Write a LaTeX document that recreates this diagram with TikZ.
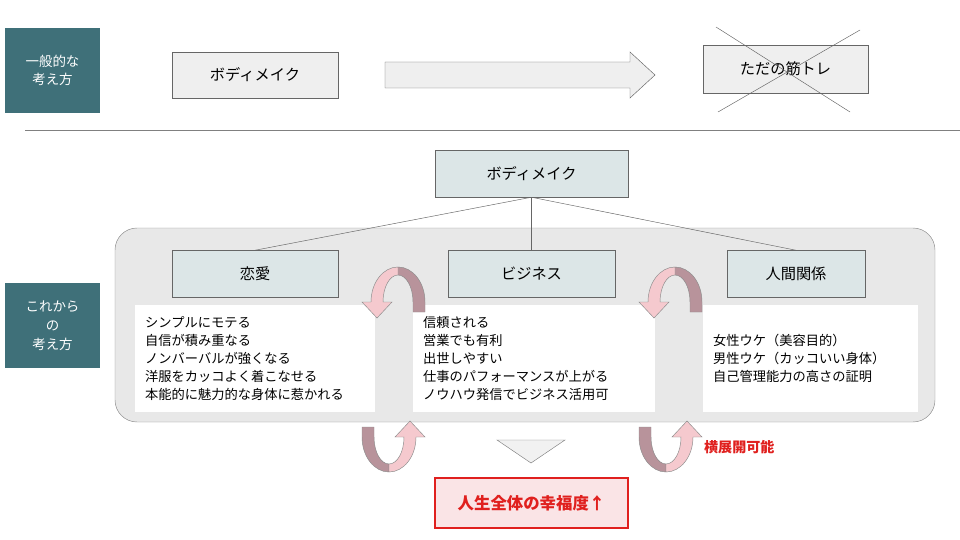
\documentclass[tikz,border=0pt]{standalone}
\usepackage{fontspec}
\setmainfont{Noto Sans CJK JP}
\usetikzlibrary{positioning, calc}
\definecolor{teal}{HTML}{3F7079}
\definecolor{boxgray}{HTML}{EFEFEF}
\definecolor{boxteal}{HTML}{DCE6E7}
\definecolor{regiongray}{HTML}{E8E8E8}
\definecolor{loopdark}{HTML}{B8939B}
\definecolor{looplight}{HTML}{F5C9CE}
\definecolor{resultred}{HTML}{E0201E}
\newcommand{\pu}{0.03cm}
\tikzset{
    label/.style={
        rectangle, fill=teal, text=white, align=center,
        minimum width=95*\pu, minimum height=85*\pu, font=\fontsize{11.5}{16}\selectfont
    },
    plain/.style={
        rectangle, draw=black!60, fill=boxgray,
        minimum width=166*\pu, minimum height=46*\pu, font=\fontsize{13}{15}\selectfont
    },
    topic/.style={
        rectangle, draw=black!60, fill=boxteal,
        minimum height=47*\pu, font=\fontsize{13}{15}\selectfont
    },
    textbox/.style={
        rectangle, fill=white, align=left, anchor=north west,
        inner xsep=10*\pu, inner ysep=8*\pu, font=\fontsize{11.3}{15.3}\selectfont
    },
    link/.style={draw=black!60}
}
\newcommand{\loopArrow}[3]{%
\begin{scope}[shift={(#1,#2)}, rotate=#3, draw=black!45]
\filldraw[fill=loopdark] (27,10) -- (27,0) arc[start angle=0, end angle=-90, x radius=27, y radius=35]
  -- (0,-27) arc[start angle=-90, end angle=0, x radius=15, y radius=27] -- (15,10) -- cycle;
\filldraw[fill=looplight] (0,-35) arc[start angle=-90, end angle=-180, x radius=27, y radius=35]
  -- (-36,0) -- (-21,16) -- (-6,0) -- (-15,0)
  arc[start angle=-180, end angle=-90, x radius=15, y radius=27] -- cycle;
\end{scope}}
\begin{document}
\begin{tikzpicture}[x=0.03cm, y=-0.03cm]
\useasboundingbox (0,0) rectangle (960,540);

% Usual view
\node[label] (usual) at (52.5,70.5) {一般的な\\考え方};
\node[plain] (make1) at (255,75) {ボディメイク};
\filldraw[draw=black!60, fill=boxgray] (385,62) -- (630,62) -- (630,52) -- (655,75) -- (630,98) -- (630,88) -- (385,88) -- cycle;
\node[plain, minimum width=165*\pu, minimum height=48*\pu] (training) at (785.5,69) {ただの筋トレ};
\coordinate (xa) at (716,27);
\coordinate (xb) at (850,112);
\coordinate (xc) at (860,30);
\coordinate (xd) at (718,112);
\draw[black!60] (xa) -- (xb) (xc) -- (xd);
\draw[black!50] (25,130) -- (960,130);

% New view
\node[label] (new) at (52.5,325.5) {これから\\の\\考え方};
\node[topic, minimum width=193*\pu] (make2) at (531.5,173.5) {ボディメイク};
\filldraw[draw=black!45, fill=regiongray, rounded corners=22*\pu] (115,228) rectangle (935,422);
\node[topic, minimum width=166*\pu] (love) at (255,274) {恋愛};
\node[topic, minimum width=167*\pu] (business) at (531.5,274) {ビジネス};
\node[topic, minimum width=138*\pu] (people) at (796,274) {人間関係};
\draw[link] (make2.south) -- (love.north);
\draw[link] (make2.south) -- (business.north);
\draw[link] (make2.south) -- (people.north);

\node[textbox, text width=220*\pu, minimum height=107*\pu] (lovetext) at (135,305)
  {シンプルにモテる\\自信が積み重なる\\ノンバーバルが強くなる\\洋服をカッコよく着こなせる\\本能的に魅力的な身体に惹かれる};
\node[textbox, text width=222*\pu, minimum height=107*\pu] (businesstext) at (413,305)
  {信頼される\\営業でも有利\\出世しやすい\\仕事のパフォーマンスが上がる\\ノウハウ発信でビジネス活用可};
\node[textbox, text width=195*\pu, minimum height=107*\pu] (peopletext) at (703,305)
  {女性ウケ（美容目的）\\男性ウケ（カッコいい身体）\\自己管理能力の高さの証明};

% Loops
\loopArrow{398}{302}{0}
\loopArrow{389}{437}{180}
\loopArrow{675}{302}{0}
\loopArrow{666}{437}{180}
\node[text=resultred, font=\fontsize{12}{14}\selectfont\bfseries, anchor=west] (spread) at (700,447) {横展開可能};

% Result
\filldraw[draw=black!50, fill=regiongray!60] (497,440) -- (565,440) -- (531,463) -- cycle;
\node[draw=resultred, line width=1.2pt, fill=looplight!50, text=resultred, minimum width=193*\pu, minimum height=50*\pu,
  font=\fontsize{14}{16}\selectfont\bfseries] (result) at (531.5,503) {人生全体の幸福度↑};
\end{tikzpicture}
\end{document}
